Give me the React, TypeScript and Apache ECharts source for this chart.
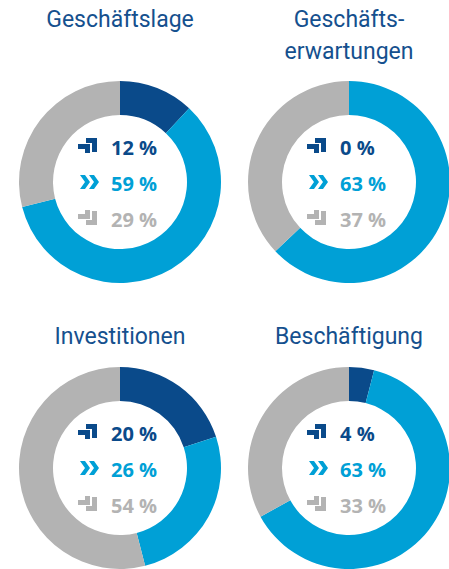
import React, { useEffect, useRef } from "react";
import * as echarts from "echarts";

const titleLines: string[][] = [
  ["Geschäftslage"],
  ["Geschäfts-", "erwartungen"],
  ["Investitionen"],
  ["Beschäftigung"],
];
const categoryNames = ["steigend", "gleichbleibend", "sinkend"];
const upValues = [12, 0, 20, 4];
const sameValues = [59, 63, 26, 63];
const downValues = [29, 37, 54, 33];

const CENTERS: [number, number][] = [
  [120, 182],
  [349, 182],
  [120, 468],
  [349, 468],
];
const COLORS = ["#0a4a8a", "#00a0d6", "#b3b3b3"];
const TITLE_COLOR = "#15508e";

function upIcon(x: number, y: number, color: string, flip: boolean) {
  const big = [[8, 0], [19, 0], [19, 14], [14, 14], [14, 5], [8, 5]];
  const small = [[0, 6], [12, 6], [12, 15], [7, 15], [7, 11], [0, 11]];
  const h = 15;
  const tr = (p: number[]) => [x + p[0], y + (flip ? h - p[1] : p[1])];
  return [
    { type: "polygon", shape: { points: big.map(tr) }, style: { fill: color }, silent: true },
    { type: "polygon", shape: { points: small.map(tr) }, style: { fill: color }, silent: true },
  ];
}

function chevrons(x: number, y: number, color: string) {
  const c = [[0, 0], [5, 0], [10, 7], [5, 14], [0, 14], [5, 7]];
  return [0, 9].map((dx) => ({
    type: "polygon",
    shape: { points: c.map((p) => [x + dx + p[0], y + p[1]]) },
    style: { fill: color },
    silent: true,
  }));
}

export default function App() {
  const ref = useRef<HTMLDivElement>(null);
  useEffect(() => {
    if (!ref.current) return;
    const chart = echarts.init(ref.current, undefined, { renderer: "svg" });
    const series: any[] = [];
    const graphic: any[] = [];
    CENTERS.forEach((c, i) => {
      const vals = [upValues[i], sameValues[i], downValues[i]];
      series.push({
        type: "pie",
        center: c,
        radius: [67, 101],
        startAngle: 90,
        clockwise: true,
        silent: true,
        label: { show: false },
        labelLine: { show: false },
        itemStyle: { borderWidth: 0 },
        data: vals.map((v, k) => ({ name: categoryNames[k], value: v, itemStyle: { color: COLORS[k] } })),
      });
      const [cx, cy] = c;
      const lines = titleLines[i];
      const baseY = i < 2 ? 19 : 336;
      lines.forEach((t, li) => {
        graphic.push({
          type: "text",
          silent: true,
          style: {
            text: t,
            x: cx,
            y: baseY + li * 32,
            align: "center",
            verticalAlign: "middle",
            fill: TITLE_COLOR,
            font: '400 23px Roboto, "Liberation Sans", sans-serif',
          },
        });
      });
      const offs = [-35, 1, 37];
      offs.forEach((o, k) => {
        const ly = cy + o;
        graphic.push({
          type: "text",
          silent: true,
          style: {
            text: vals[k] + " %",
            x: cx - 9,
            y: ly,
            align: "left",
            verticalAlign: "middle",
            fill: COLORS[k],
            font: 'bold 20px "Open Sans", sans-serif',
          },
        });
      });
      graphic.push(...upIcon(cx - 42, cy - 35 - 9, COLORS[0], false));
      graphic.push(...chevrons(cx - 40, cy + 1 - 8, COLORS[1]));
      graphic.push(...upIcon(cx - 42, cy + 37 - 9, COLORS[2], true));
    });
    chart.setOption({
      animation: false,
      backgroundColor: "#ffffff",
      series,
      graphic: { elements: graphic },
    });
    return () => chart.dispose();
  }, []);
  return (
    <div
      ref={ref}
      style={{ position: "absolute", left: 0, top: 0, width: 449, height: 569 }}
    />
  );
}
